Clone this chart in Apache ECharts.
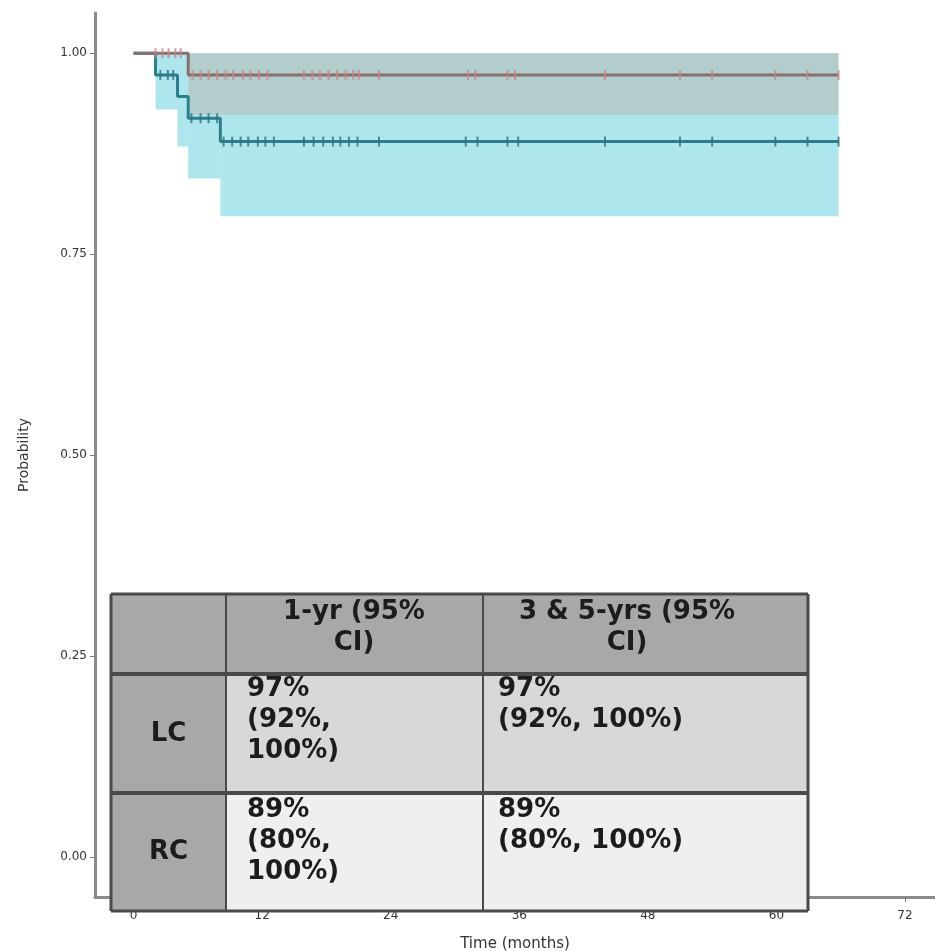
<!DOCTYPE html>
<html><head><meta charset="utf-8">
<script src="https://cdn.jsdelivr.net/npm/echarts@6/dist/echarts.min.js"></script>
<style>html,body{margin:0;padding:0;background:#fff}#c{width:935px;height:951px}</style>
</head><body><div id="c"></div>
<script>
// ---- data ----
const xTicks = [0, 12, 24, 36, 48, 60, 72];
const yTicks = [0, 0.25, 0.5, 0.75, 1];

const lcTimes = [0, 5.1, 65.8];
const lcSurv  = [1, 0.973, 0.973];
const lcLower = [1, 0.923, 0.923];
const lcUpper = [1, 1, 1];

const rcTimes = [0, 2.05, 4.1, 5.1, 8.1, 65.8];
const rcSurv  = [1, 0.973, 0.946, 0.919, 0.89, 0.89];
const rcLower = [1, 0.93, 0.884, 0.844, 0.797, 0.797];
const rcUpper = [1, 1, 1, 1, 1, 1];

const lcCensor = [2.05, 2.7, 3.26, 3.9, 4.4, 5.5, 6.25, 7.0, 7.8, 8.6, 9.3, 10.2, 10.9, 11.7, 12.5,
  15.9, 16.7, 17.4, 18.2, 19.0, 19.8, 20.5, 21.0, 22.9, 31.2, 31.9, 34.9, 35.6, 44.0, 51.0, 54.0, 59.9, 62.9, 65.8];
const rcCensor = [2.5, 3.2, 3.7, 5.4, 6.25, 7.0, 7.8, 8.4, 9.2, 10.0, 10.7, 11.6, 12.3, 13.1,
  15.9, 16.8, 17.7, 18.6, 19.3, 20.1, 20.9, 22.9, 31.0, 32.1, 34.9, 35.9, 44.0, 51.0, 54.0, 59.9, 62.9, 65.8];

const tableHeader = ['', '1-yr (95%\nCI)', '3 & 5-yrs (95%\nCI)'];
const rowLabels = ['LC', 'RC'];
const oneYear = ['97%\n(92%,\n100%)', '89%\n(80%,\n100%)'];
const threeFiveYears = ['97%\n(92%, 100%)', '89%\n(80%, 100%)'];

// ---- helpers ----
function survAt(times, surv, t) {
  let v = surv[0];
  for (let i = 0; i < times.length; i++) if (times[i] <= t) v = surv[i];
  return v;
}
function bandSegs(times, lower, upper) {
  const out = [];
  for (let i = 0; i < times.length - 1; i++) out.push([times[i], times[i + 1], lower[i], upper[i]]);
  return out;
}
function bandSeries(segs, color) {
  return {
    type: 'custom', data: segs, encode: { x: [0, 1], y: [2, 3] }, silent: true, z: 1,
    renderItem: function (params, api) {
      const p1 = api.coord([api.value(0), api.value(3)]);
      const p2 = api.coord([api.value(1), api.value(2)]);
      return { type: 'rect', shape: { x: p1[0], y: p1[1], width: p2[0] - p1[0], height: p2[1] - p1[1] },
        style: { fill: color } };
    }
  };
}

const chart = echarts.init(document.getElementById('c'), null, { renderer: 'canvas' });
const FONT = 'DejaVu Sans';

// table geometry (pixels)
const T = { x0: 111, x1: 226, x2: 483, x3: 808, y0: 594, y1: 674, y2: 793, y3: 911 };
const lh = 31, tfs = 26;
const graphics = [];
function rect(x, y, w, h, fill) {
  graphics.push({ type: 'rect', z: 100, shape: { x, y, width: w, height: h }, style: { fill } });
}
function line(x1, y1, x2, y2, w) {
  graphics.push({ type: 'line', z: 101, shape: { x1, y1, x2, y2 }, style: { stroke: '#4a4a4a', lineWidth: w } });
}
function text(t, x, y, align, bold) {
  graphics.push({ type: 'text', z: 102, style: { text: t, x, y, fill: '#1c1c1c',
    font: (bold ? 'bold ' : '') + tfs + 'px "' + FONT + '"', textAlign: align, textVerticalAlign: 'top', lineHeight: lh } });
}
rect(T.x0, T.y0, T.x3 - T.x0, T.y1 - T.y0, '#a8a8a8');
rect(T.x0, T.y1, T.x1 - T.x0, T.y3 - T.y1, '#a8a8a8');
rect(T.x1, T.y1, T.x3 - T.x1, T.y2 - T.y1, '#d8d8d8');
rect(T.x1, T.y2, T.x3 - T.x1, T.y3 - T.y2, '#efefef');
line(T.x0, T.y0, T.x3, T.y0, 3);
line(T.x0, T.y1, T.x3, T.y1, 4);
line(T.x0, T.y2, T.x3, T.y2, 4);
line(T.x0, T.y3, T.x3, T.y3, 3);
line(T.x0, T.y0, T.x0, T.y3, 3);
line(T.x1, T.y0, T.x1, T.y3, 2);
line(T.x2, T.y0, T.x2, T.y3, 2);
line(T.x3, T.y0, T.x3, T.y3, 3);
text(tableHeader[1], 354, 597, 'center', true);
text(tableHeader[2], 627, 597, 'center', true);
text(rowLabels[0], (T.x0 + T.x1) / 2, (T.y1 + T.y2) / 2 - 15, 'center', true);
text(rowLabels[1], (T.x0 + T.x1) / 2, (T.y2 + T.y3) / 2 - 15, 'center', true);
text(oneYear[0], 247, 674, 'left', true);
text(threeFiveYears[0], 498, 674, 'left', true);
text(oneYear[1], 247, 795, 'left', true);
text(threeFiveYears[1], 498, 795, 'left', true);

const axisCol = '#8a8a8a';
chart.setOption({
  animation: false,
  backgroundColor: '#ffffff',
  grid: { left: 95, right: 0, top: 13, bottom: 54, containLabel: false, outerBoundsMode: 'none' },
  xAxis: {
    type: 'value', min: -3.6, max: 74.8,
    name: 'Time (months)', nameLocation: 'middle', nameGap: 40,
    nameTextStyle: { fontFamily: FONT, fontSize: 15, color: '#333' },
    axisLine: { show: true, onZero: false, lineStyle: { color: axisCol, width: 3 } },
    axisTick: { show: true, customValues: xTicks, length: 5, lineStyle: { color: '#777' } },
    axisLabel: { customValues: xTicks, fontFamily: FONT, fontSize: 12, color: '#333', margin: 13 },
    splitLine: { show: false }
  },
  yAxis: {
    type: 'value', min: -0.05, max: 1.05,
    name: 'Probability', nameLocation: 'middle', nameGap: 64, nameRotate: 90,
    nameTextStyle: { fontFamily: FONT, fontSize: 14, color: '#333' },
    axisLine: { show: true, onZero: false, lineStyle: { color: axisCol, width: 3 } },
    axisTick: { show: true, customValues: yTicks, length: 5, lineStyle: { color: '#777' } },
    axisLabel: { customValues: yTicks, fontFamily: FONT, fontSize: 12, color: '#333', margin: 8,
      formatter: v => Number(v).toFixed(2) },
    splitLine: { show: false }
  },
  series: [
    bandSeries(bandSegs(rcTimes, rcLower, rcUpper), 'rgba(0,180,200,0.32)'),
    bandSeries(bandSegs(lcTimes, lcLower, lcUpper), 'rgba(193,157,146,0.35)'),
    { type: 'line', step: 'end', z: 3, showSymbol: false, silent: true,
      data: rcTimes.map((t, i) => [t, rcSurv[i]]), lineStyle: { color: '#2b7f8b', width: 3 } },
    { type: 'line', step: 'end', z: 3, showSymbol: false, silent: true,
      data: lcTimes.map((t, i) => [t, lcSurv[i]]), lineStyle: { color: '#86706f', width: 3 } },
    { type: 'scatter', z: 4, silent: true, symbol: 'rect', symbolSize: [2, 10],
      data: rcCensor.map(t => [t, survAt(rcTimes, rcSurv, t)]), itemStyle: { color: '#2a7480' } },
    { type: 'scatter', z: 4, silent: true, symbol: 'rect', symbolSize: [2, 10],
      data: lcCensor.map(t => [t, survAt(lcTimes, lcSurv, t)]), itemStyle: { color: '#c98585' } }
  ],
  graphic: graphics
});
</script></body></html>
